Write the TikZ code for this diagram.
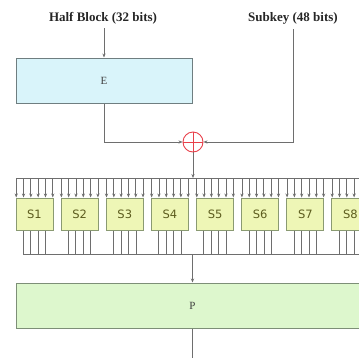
\documentclass[tikz,border=0pt]{standalone}
\usepackage{fontspec}
\setmainfont{Liberation Serif}
\newfontfamily\sboxfont{DejaVu Sans}
\usetikzlibrary{arrows.meta,calc}
\definecolor{linegray}{HTML}{6E6E6E}
\definecolor{efill}{HTML}{D9F4FA}
\definecolor{eborder}{HTML}{6F7E80}
\definecolor{sfill}{HTML}{EEF6B6}
\definecolor{sborder}{HTML}{8A9A72}
\definecolor{stext}{HTML}{5C5C1E}
\definecolor{pfill}{HTML}{DDF7CD}
\definecolor{pborder}{HTML}{7D8F77}
\definecolor{xorred}{HTML}{E8404A}
\begin{document}
\begin{tikzpicture}[x=1pt,y=-1pt,
  conn/.style={draw=linegray,line width=0.8pt},
  arr/.style={conn,-{Stealth[length=4pt,width=3.2pt]}},
  ebox/.style={draw=eborder,fill=efill,line width=1pt,minimum width=176pt,minimum height=45pt,inner sep=0pt,font=\fontsize{11}{12}\selectfont,text=black!75},
  sbox/.style={draw=sborder,fill=sfill,line width=1pt,minimum width=37pt,minimum height=32pt,inner sep=0pt,font=\sboxfont\fontsize{11.5}{13}\selectfont,text=stext},
  pbox/.style={draw=pborder,fill=pfill,line width=1pt,minimum width=353pt,minimum height=45pt,inner sep=0pt,font=\fontsize{11}{12}\selectfont,text=black!75},
  lbl/.style={font=\bfseries\fontsize{13}{15}\selectfont,text=black!85,inner sep=0pt}]
\useasboundingbox (0,0) rectangle (359,357);
\clip (0,0) rectangle (359,357);
% labels
\node[lbl] (hb) at (103,18) {Half Block (32 bits)};
\node[lbl] (sk) at (293,18) {Subkey (48 bits)};
% E box
\node[ebox] (E) at (104,80.5) {E};
\draw[arr] (E.north |- 0,28) coordinate (hbend) -- (E.north);
% XOR
\node[draw=xorred,line width=0.9pt,circle,minimum size=20pt,inner sep=0pt] (xor) at (193,142) {};
\draw[xorred,line width=0.9pt] (xor.north) -- (xor.south) (xor.west) -- (xor.east);
\draw[arr] (E.south) |- (xor.west);
\coordinate (skend) at (293,29);
\draw[arr] (skend) |- (xor.east);
% bus
\coordinate (busL) at (16,178);
\coordinate (busR) at (380,178);
\draw[conn] (busL) -- (busR);
\draw[arr] (xor.south) -- (xor.south |- busL);
% S-boxes
\foreach \i in {1,...,8}{
  \node[sbox] (s\i) at ({16+18.5+45.14*(\i-1)},214) {S\i};
  \foreach \k in {0,...,5}{
    \coordinate (in\i\k) at ($(s\i.north west)!{(\k+0.1)/5.2}!(s\i.north east)$);
    \draw[arr] (in\i\k |- busL) -- (in\i\k);
  }
  \foreach \k in {1,...,4}{
    \coordinate (out\i\k) at ($(s\i.south)+({(\k-2.5)*7.5},0)$);
    \draw[conn] (out\i\k) -- (out\i\k |- 0,254);
  }
}
\coordinate (obL) at (23,254);
\coordinate (obR) at (380,254);
\draw[conn] (obL) -- (obR);
% P box
\node[pbox] (P) at (192.5,305.5) {P};
\draw[arr] (P.north |- obL) -- (P.north);
\coordinate (pend) at (192.5,362);
\draw[arr] (P.south) -- (pend);
\end{tikzpicture}
\end{document}
